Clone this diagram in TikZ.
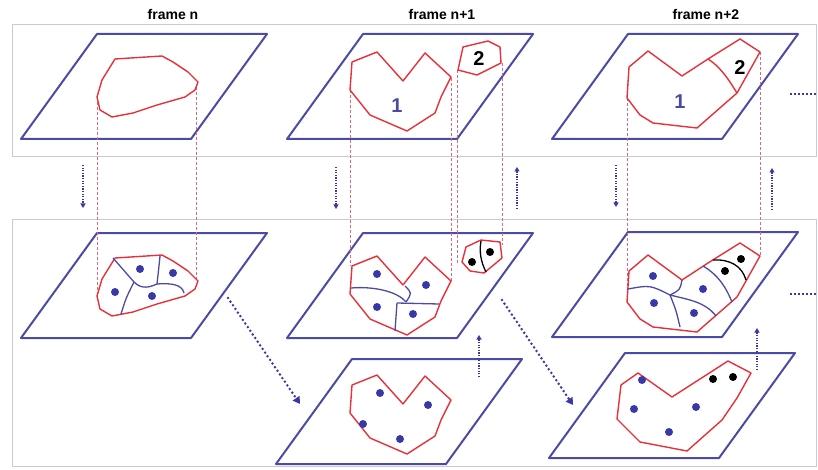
\documentclass[tikz,border=0pt]{standalone}
\usepackage{fontspec}
\setmainfont{Liberation Sans}
\usetikzlibrary{arrows.meta}
\definecolor{pblue}{HTML}{4B4BA6}
\definecolor{ored}{HTML}{E8303A}
\definecolor{dred}{HTML}{D86A80}
\definecolor{boxc}{HTML}{C8C8E0}
\definecolor{dotb}{HTML}{3838A8}
\newcommand\drawplane[2]{\draw[plane] (#1,#2) -- ++(170,0) -- ++(-76,105) -- ++(-170,0) -- cycle;}
\begin{document}
\begin{tikzpicture}[x=1pt,y=-1pt,
 plane/.style={draw=pblue,line width=2pt,line join=round},
 outline/.style={draw=ored,line width=1.4pt,line join=round},
 vor/.style={draw=pblue,line width=1.3pt},
 vorb/.style={draw=black,line width=1.3pt},
 proj/.style={draw=dred,line width=0.7pt,dash pattern=on 3pt off 2pt},
 panel/.style={draw=boxc,line width=0.8pt},
 vflow/.style={draw=dotb,line width=2pt,dash pattern=on 1.3pt off 1.3pt,-{Triangle[length=4.5pt,width=5pt]}},
 dflow/.style={draw=dotb,line width=2.8pt,line cap=round,dash pattern=on 0pt off 4.4pt,-{Triangle[length=7pt,width=8pt]}},
 hdots/.style={draw=dotb,line width=2pt,dash pattern=on 2pt off 2pt},
 bdot/.style={fill=dotb},
 kdot/.style={fill=black},
 title/.style={font=\bfseries\fontsize{14}{14}\selectfont,inner sep=0pt},
 num/.style={font=\bfseries\fontsize{20}{20}\selectfont,inner sep=0pt}
]
\useasboundingbox (0,0) rectangle (818,470);
% panels
\draw[panel] (12,24) rectangle (816,156);
\draw[panel] (12,219) rectangle (816,466);
% titles
\node[title] (t1) at (173,15) {frame n};
\node[title] (t2) at (442,15) {frame n+1};
\node[title] (t3) at (706,15) {frame n+2};
% planes
\drawplane{97}{34}
\drawplane{363}{34}
\drawplane{628}{34}
\drawplane{97}{233}
\drawplane{363}{233}
\drawplane{628}{232}
\drawplane{352}{359}
\drawplane{625}{353}
% projection lines
\draw[proj] (97,97) -- (97,296);
\draw[proj] (196,87) -- (196,280);
\draw[proj] (350,90) -- (350,266);
\draw[proj] (451,78) -- (451,281);
\draw[proj] (457,70) -- (457,264);
\draw[proj] (502,63) -- (502,245);
\draw[proj] (627,98) -- (627,290);
\draw[proj] (760,52) -- (760,256);
% frame n
\def\blob{(115,59) -- (162,56) -- (173,62) -- (188,72) -- (198,82) -- (195,90) -- (185,97) -- (157,105) -- (133,113) -- (112,117) -- (100,110) -- (97,97) -- (102,80) -- cycle}
\draw[outline] \blob;
\begin{scope}[shift={(0,199)}]
\draw[outline] \blob;
\end{scope}
\draw[vor] (113,258) .. controls (124,270) .. (134,282);
\draw[vor] (134,282) .. controls (126,298) .. (121,314);
\draw[vor] (134,282) .. controls (142,290) and (150,287) .. (157,284);
\draw[vor] (160,256) .. controls (159,266) .. (157,284);
\draw[vor] (157,284) .. controls (170,283) and (182,284) .. (184,293);
\fill[bdot] (140,269) circle (4) (173,273) circle (4) (115,292) circle (4) (152,296) circle (4);
% frame n+1
\def\heart{(352,62) -- (377,52) -- (403,81) -- (425,53) -- (451,77) -- (441,97) -- (435,113) -- (407,131) -- (370,115) -- (350,90) -- cycle}
\draw[outline] \heart;
\node[num,text=pblue] (one1) at (397,106) {1};
\draw[outline] (463,47) -- (488,41) -- (500,47) -- (501,63) -- (477,75) -- (458,70) -- cycle;
\node[num] (two1) at (479,59) {2};
\begin{scope}[shift={(0,204)}]
\draw[outline] \heart;
\end{scope}
\draw[vor] (351,288) .. controls (375,286) and (398,292) .. (406,302);
\draw[vor] (405,286) .. controls (412,293) .. (406,302);
\draw[vor] (397,303) -- (439,304);
\draw[vor] (397,303) -- (395,331);
\fill[bdot] (377,274) circle (4) (426,285) circle (4) (377,307) circle (4) (413,314) circle (4);
\draw[outline] (466,247) -- (481,240) -- (500,242) -- (502,258) -- (484,273) -- (470,271) -- (462,262) -- cycle;
\draw[vorb] (481,241) .. controls (479,252) and (481,262) .. (486,272);
\fill[kdot] (472,262) circle (4) (490,252) circle (4);
\begin{scope}[shift={(0,323)}]
\draw[outline] \heart;
\end{scope}
\fill[bdot] (380,393) circle (4) (428,405) circle (4) (363,424) circle (4) (400,439) circle (4);
% frame n+2
\def\merged{(629,67) -- (635,62) -- (648,51) -- (682,76) -- (708,59) -- (740,39) -- (760,52) -- (737,93) -- (697,128) -- (653,123) -- (640,115) -- (627,98) -- cycle}
\draw[outline] \merged;
\draw[outline] (708,59) .. controls (722,68) and (730,82) .. (737,93);
\node[num,text=pblue] (one2) at (680,102) {1};
\node[num] (two2) at (740,68) {2};
\begin{scope}[shift={(0,204)}]
\draw[outline] \merged;
\end{scope}
\draw[vor] (628,289) .. controls (650,285) .. (670,295);
\draw[vor] (670,295) .. controls (680,290) .. (682,280);
\draw[vor] (670,295) .. controls (676,310) .. (680,327);
\draw[vor] (670,295) .. controls (690,300) and (705,302) .. (716,316);
\draw[vor] (703,266) .. controls (720,276) and (727,290) .. (732,302);
\draw[vorb] (713,260) .. controls (730,259) and (742,266) .. (746,280);
\fill[bdot] (653,276) circle (4) (703,289) circle (4) (654,303) circle (4) (694,313) circle (4);
\fill[kdot] (741,259) circle (4) (725,271) circle (4);
\draw[outline] (621,385) -- (638,373) -- (672,397) -- (728,361) -- (751,373) -- (737,398) -- (722,420) -- (687,451) -- (640,442) -- (617,419) -- cycle;
\fill[bdot] (642,380) circle (4) (634,409) circle (4) (696,407) circle (4) (669,432) circle (4);
\fill[kdot] (713,379) circle (4) (733,377) circle (4);
% flow arrows
\coordinate (a1s) at (83,165); \coordinate (a1e) at (83,208);
\coordinate (a2s) at (336,167); \coordinate (a2e) at (336,209);
\coordinate (a3s) at (517,209); \coordinate (a3e) at (517,167);
\coordinate (a4s) at (616,165); \coordinate (a4e) at (616,207);
\coordinate (a5s) at (772,210); \coordinate (a5e) at (772,168);
\coordinate (u1s) at (479,377); \coordinate (u1e) at (479,335);
\coordinate (u2s) at (757,370); \coordinate (u2e) at (757,328);
\coordinate (d1s) at (228,298); \coordinate (d1e) at (300,404);
\coordinate (d2s) at (502,300); \coordinate (d2e) at (573,405);
\coordinate (h1s) at (790,94); \coordinate (h1e) at (817,94);
\coordinate (h2s) at (790,294); \coordinate (h2e) at (817,294);
\draw[vflow] (a1s) -- (a1e);
\draw[vflow] (a2s) -- (a2e);
\draw[vflow] (a3s) -- (a3e);
\draw[vflow] (a4s) -- (a4e);
\draw[vflow] (a5s) -- (a5e);
\draw[vflow] (u1s) -- (u1e);
\draw[vflow] (u2s) -- (u2e);
\draw[dflow] (d1s) -- (d1e);
\draw[dflow] (d2s) -- (d2e);
\draw[hdots] (h1s) -- (h1e);
\draw[hdots] (h2s) -- (h2e);
\end{tikzpicture}
\end{document}
